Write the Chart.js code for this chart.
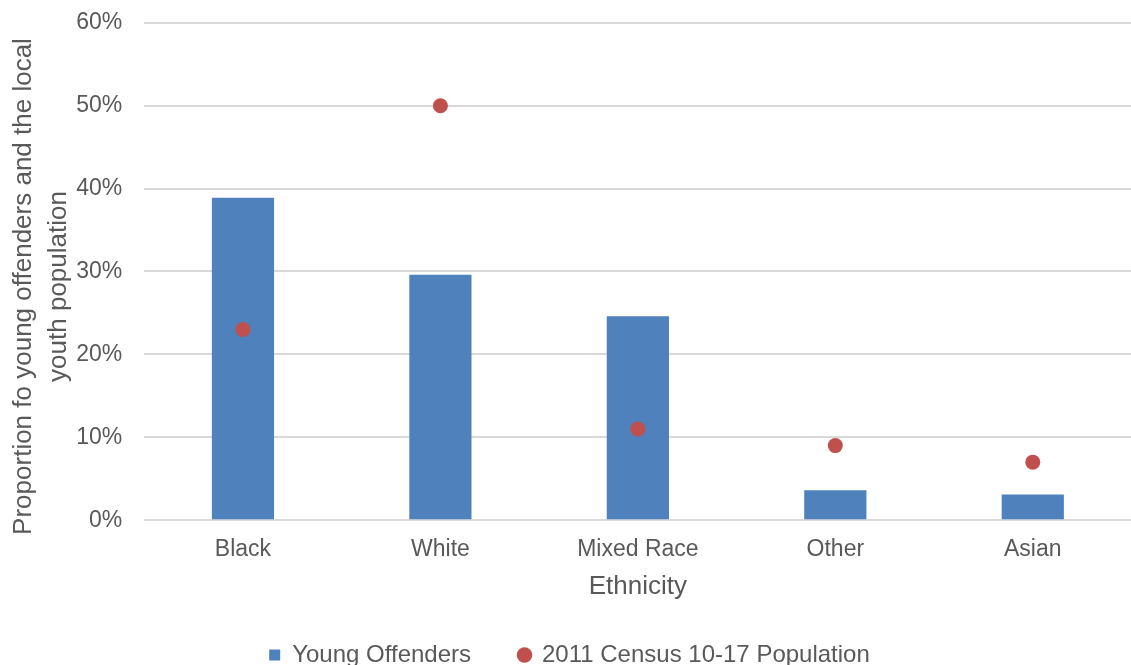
<!DOCTYPE html>
<html>
<head>
    <title>Young offenders by ethnicity</title>
    <script src="https://cdn.jsdelivr.net/npm/chart.js"></script>
    <style>
        html, body { margin: 0; padding: 0; background: #fff; overflow: hidden; }
        #wrap { width: 1139px; height: 678px; margin-top: -13px; }
    </style>
</head>
<body>
    <div id="wrap"><canvas id="ethnicityChart"></canvas></div>
    <script>
        // data
        const ethnicities = ['Black', 'White', 'Mixed Race', 'Other', 'Asian'];
        const youngOffenders = [38.9, 29.6, 24.6, 3.6, 3.1];
        const census2011 = [23, 50, 11, 9, 7];
        const yTicks = [0, 10, 20, 30, 40, 50, 60];

        const textColor = '#595959';
        const family = "'Liberation Sans', Arial, sans-serif";
        const font = { family: family, size: 23 };

        // Excel-style tweaks: legend sits low with wide gaps, y title a bit below the plot centre
        const excelLayout = {
            id: 'excelLayout',
            beforeInit(chart) {
                const fit = chart.legend.fit;
                chart.legend.fit = function () {
                    fit.call(this);
                    this.height = 70;
                };
            },
            afterUpdate(chart) {
                const y = chart.scales.y;
                if (y._titleShifted) return;
                const drawTitle = y.drawTitle;
                y.drawTitle = function () {
                    this.ctx.save();
                    this.ctx.translate(0, 15);
                    drawTitle.apply(this, arguments);
                    this.ctx.restore();
                };
                y._titleShifted = true;
            }
        };

        const ctx = document.getElementById('ethnicityChart').getContext('2d');
        new Chart(ctx, {
            type: 'bar',
            data: {
                labels: ethnicities,
                datasets: [{
                    label: 'Young Offenders',
                    data: youngOffenders,
                    backgroundColor: '#4F81BD',
                    borderColor: '#4F81BD',
                    borderWidth: 0,
                    pointStyle: 'rect',
                    categoryPercentage: 1,
                    barPercentage: 0.315,
                    order: 2
                }, {
                    type: 'line',
                    label: '2011 Census 10-17 Population',
                    data: census2011,
                    showLine: false,
                    pointStyle: 'circle',
                    pointRadius: 7.5,
                    pointHoverRadius: 7.5,
                    backgroundColor: '#C0504D',
                    borderColor: '#C0504D',
                    borderWidth: 0,
                    order: 1
                }]
            },
            plugins: [excelLayout],
            options: {
                responsive: true,
                maintainAspectRatio: false,
                animation: false,
                layout: { padding: 0 },
                plugins: {
                    tooltip: { enabled: false },
                    legend: {
                        position: 'bottom',
                        labels: {
                            usePointStyle: true,
                            boxWidth: 11,
                            boxHeight: 11,
                            padding: 48,
                            color: textColor,
                            font: { family: family, size: 24 },
                            sort: (a, b) => a.datasetIndex - b.datasetIndex
                        }
                    }
                },
                scales: {
                    x: {
                        grid: { display: false },
                        border: { display: false },
                        ticks: { color: textColor, font: font, padding: 8 },
                        title: {
                            display: true,
                            text: 'Ethnicity',
                            color: textColor,
                            font: { family: family, size: 26 },
                            padding: { top: -1, bottom: -7 }
                        }
                    },
                    y: {
                        min: 0,
                        max: 60,
                        afterBuildTicks: axis => { axis.ticks = yTicks.map(v => ({ value: v })); },
                        grid: { color: '#D9D9D9', lineWidth: 2, drawTicks: false },
                        border: { display: false },
                        ticks: {
                            color: textColor,
                            font: font,
                            padding: 22,
                            callback: v => v + '%'
                        },
                        title: {
                            display: true,
                            text: ['Proportion fo young offenders and the local', 'youth population'],
                            color: textColor,
                            font: { family: family, size: 26, lineHeight: 1.35 },
                            padding: { top: 6, bottom: -22 }
                        }
                    }
                }
            }
        });
    </script>
</body>
</html>
